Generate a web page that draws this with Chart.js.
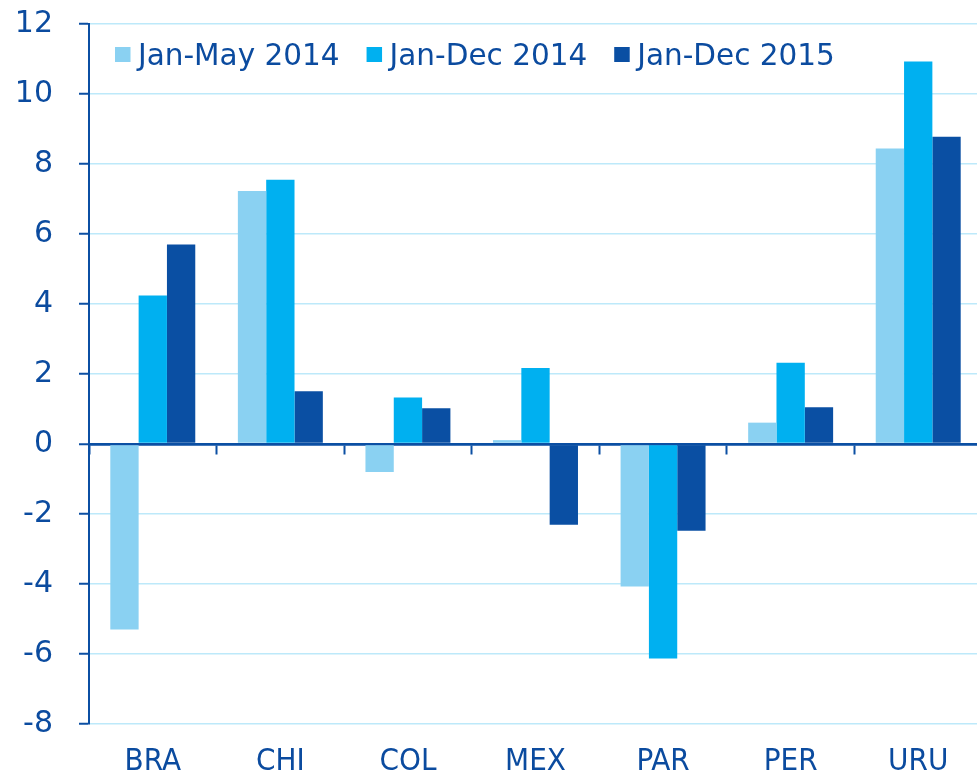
<!DOCTYPE html>
<html><head><meta charset="utf-8">
<script src="https://cdn.jsdelivr.net/npm/chart.js@4.4.1/dist/chart.umd.min.js"></script>
<style>
html,body{margin:0;padding:0;overflow:hidden;background:#fff;width:977px;height:774px}
#wrap{position:absolute;left:0;top:0;width:983px;height:780px}
</style></head><body>
<div id="wrap"><canvas id="c" width="983" height="780"></canvas></div>
<script>
const categories = ['BRA','CHI','COL','MEX','PAR','PER','URU'];
const seriesNames = ['Jan-May 2014','Jan-Dec 2014','Jan-Dec 2015'];
const janMay2014 = [-5.3, 7.23, -0.8, 0.11, -4.07, 0.61, 8.44];
const janDec2014 = [4.24, 7.55, 1.33, 2.17, -6.13, 2.32, 10.93];
const janDec2015 = [5.7, 1.51, 1.02, -2.31, -2.48, 1.05, 8.78];
const yTicks = [-8, -6, -4, -2, 0, 2, 4, 6, 8, 10, 12];

const DARK = '#0B4FA3';
const TEXT = '#0B4B9F';
const GRID = '#BDE9FA';
const colors = ['#8AD1F2', '#00B0F0', '#0A4FA3'];

const legendPlugin = {
  id: 'insideLegend',
  afterDraw(chart) {
    const ctx = chart.ctx;
    ctx.save();
    ctx.font = '29.5px "DejaVu Sans"';
    ctx.textBaseline = 'alphabetic';
    ctx.textAlign = 'left';
    let x = 115;
    chart.data.datasets.forEach((ds, i) => {
      ctx.fillStyle = ds.backgroundColor;
      ctx.fillRect(x, 47, 15.5, 15);
      ctx.fillStyle = TEXT;
      ctx.fillText(ds.label, x + 23, 64.5);
      x += 23 + ctx.measureText(ds.label).width + 27;
    });
    ctx.restore();
  }
};

new Chart(document.getElementById('c'), {
  type: 'bar',
  data: {
    labels: categories,
    datasets: [
      { label: seriesNames[0], data: janMay2014, backgroundColor: colors[0] },
      { label: seriesNames[1], data: janDec2014, backgroundColor: colors[1] },
      { label: seriesNames[2], data: janDec2015, backgroundColor: colors[2] }
    ]
  },
  options: {
    responsive: false,
    animation: false,
    devicePixelRatio: 1,
    layout: { padding: { top: 24, left: 0, right: 1, bottom: 0 } },
    datasets: { bar: { categoryPercentage: 0.666, barPercentage: 1.0, borderWidth: 0 } },
    plugins: { legend: { display: false }, tooltip: { enabled: false } },
    scales: {
      x: {
        position: 'bottom',
        grid: { display: false, drawTicks: false },
        border: { display: false },
        ticks: {
          padding: 19,
          color: TEXT,
          font: { family: '"DejaVu Sans Condensed", "DejaVu Sans"', size: 31 }
        },
        afterFit(s) { s.height = 56; s.paddingLeft = 0; s.paddingRight = 0; }
      },
      x0: {
        type: 'category',
        labels: categories,
        position: { y: 0 },
        offset: true,
        z: 1,
        grid: {
          offset: true,
          drawOnChartArea: false,
          drawTicks: true,
          tickLength: 9,
          tickWidth: 2,
          tickColor: DARK
        },
        border: { display: true, color: DARK, width: 2.5 },
        ticks: { display: false }
      },
      y: {
        min: -8,
        max: 12,
        afterBuildTicks(s) { s.ticks = yTicks.map(v => ({ value: v })); },
        afterFit(s) { s.width = 89; s.paddingTop = 0; s.paddingBottom = 0; },
        grid: {
          color: ctx => (ctx.tick && ctx.tick.value === 0) ? DARK : GRID,
          lineWidth: ctx => (ctx.tick && ctx.tick.value === 0) ? 2.5 : 1.5,
          drawTicks: true,
          tickLength: 10,
          tickWidth: 2,
          tickColor: DARK
        },
        border: { display: true, color: DARK, width: 2 },
        ticks: {
          padding: 26,
          color: TEXT,
          font: { family: '"DejaVu Sans"', size: 30 }
        }
      }
    }
  },
  plugins: [legendPlugin]
});
</script>
</body></html>
